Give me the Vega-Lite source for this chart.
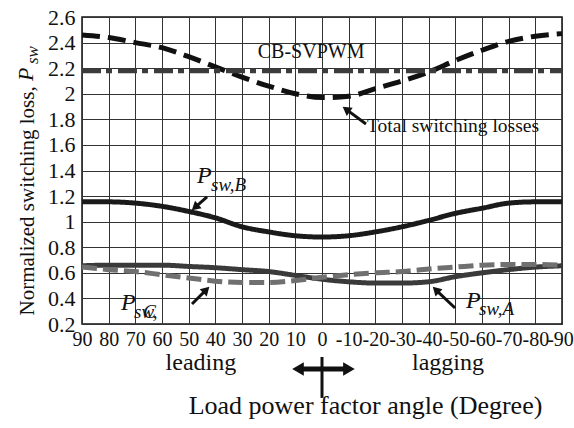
{
  "$schema": "https://vega.github.io/schema/vega-lite/v6.json",
  "width": 480,
  "height": 307,
  "autosize": {"type": "none"},
  "padding": {"left": 82, "top": 17, "right": 12, "bottom": 104},
  "background": "white",
  "config": {
    "view": {"stroke": "#111", "strokeWidth": 1.5},
    "font": "Liberation Serif",
    "text": {"font": "Liberation Serif", "color": "#111"},
    "axis": {"labelFont": "Liberation Serif", "titleFont": "Liberation Serif", "labelColor": "#111", "titleColor": "#111", "titleFontWeight": "normal", "gridColor": "#333", "gridWidth": 1, "gridOpacity": 1, "tickSize": 0, "domain": false}
  },
  "datasets": {
    "curves": [
      {"deg": 90, "series": "Total", "value": 2.46}, {"deg": 80, "series": "Total", "value": 2.44}, {"deg": 70, "series": "Total", "value": 2.40}, {"deg": 60, "series": "Total", "value": 2.36}, {"deg": 50, "series": "Total", "value": 2.29}, {"deg": 40, "series": "Total", "value": 2.21}, {"deg": 30, "series": "Total", "value": 2.13}, {"deg": 20, "series": "Total", "value": 2.06}, {"deg": 10, "series": "Total", "value": 2.00}, {"deg": 0, "series": "Total", "value": 1.97}, {"deg": -10, "series": "Total", "value": 1.98}, {"deg": -20, "series": "Total", "value": 2.04}, {"deg": -30, "series": "Total", "value": 2.10}, {"deg": -40, "series": "Total", "value": 2.17}, {"deg": -50, "series": "Total", "value": 2.26}, {"deg": -60, "series": "Total", "value": 2.34}, {"deg": -70, "series": "Total", "value": 2.41}, {"deg": -80, "series": "Total", "value": 2.45}, {"deg": -90, "series": "Total", "value": 2.47},
      {"deg": 90, "series": "B", "value": 1.155}, {"deg": 80, "series": "B", "value": 1.155}, {"deg": 70, "series": "B", "value": 1.145}, {"deg": 60, "series": "B", "value": 1.12}, {"deg": 50, "series": "B", "value": 1.08}, {"deg": 40, "series": "B", "value": 1.03}, {"deg": 30, "series": "B", "value": 0.96}, {"deg": 20, "series": "B", "value": 0.92}, {"deg": 10, "series": "B", "value": 0.89}, {"deg": 0, "series": "B", "value": 0.88}, {"deg": -10, "series": "B", "value": 0.89}, {"deg": -20, "series": "B", "value": 0.92}, {"deg": -30, "series": "B", "value": 0.96}, {"deg": -40, "series": "B", "value": 1.01}, {"deg": -50, "series": "B", "value": 1.065}, {"deg": -60, "series": "B", "value": 1.105}, {"deg": -70, "series": "B", "value": 1.145}, {"deg": -80, "series": "B", "value": 1.155}, {"deg": -90, "series": "B", "value": 1.155},
      {"deg": 90, "series": "A", "value": 0.655}, {"deg": 80, "series": "A", "value": 0.66}, {"deg": 70, "series": "A", "value": 0.66}, {"deg": 60, "series": "A", "value": 0.66}, {"deg": 50, "series": "A", "value": 0.65}, {"deg": 40, "series": "A", "value": 0.64}, {"deg": 30, "series": "A", "value": 0.625}, {"deg": 20, "series": "A", "value": 0.61}, {"deg": 10, "series": "A", "value": 0.58}, {"deg": 0, "series": "A", "value": 0.55}, {"deg": -10, "series": "A", "value": 0.53}, {"deg": -20, "series": "A", "value": 0.52}, {"deg": -30, "series": "A", "value": 0.52}, {"deg": -40, "series": "A", "value": 0.53}, {"deg": -50, "series": "A", "value": 0.57}, {"deg": -60, "series": "A", "value": 0.60}, {"deg": -70, "series": "A", "value": 0.625}, {"deg": -80, "series": "A", "value": 0.645}, {"deg": -90, "series": "A", "value": 0.655},
      {"deg": 90, "series": "C", "value": 0.645}, {"deg": 80, "series": "C", "value": 0.625}, {"deg": 70, "series": "C", "value": 0.61}, {"deg": 60, "series": "C", "value": 0.585}, {"deg": 50, "series": "C", "value": 0.56}, {"deg": 40, "series": "C", "value": 0.535}, {"deg": 30, "series": "C", "value": 0.525}, {"deg": 20, "series": "C", "value": 0.525}, {"deg": 10, "series": "C", "value": 0.54}, {"deg": 0, "series": "C", "value": 0.565}, {"deg": -10, "series": "C", "value": 0.585}, {"deg": -20, "series": "C", "value": 0.60}, {"deg": -30, "series": "C", "value": 0.61}, {"deg": -40, "series": "C", "value": 0.63}, {"deg": -50, "series": "C", "value": 0.645}, {"deg": -60, "series": "C", "value": 0.66}, {"deg": -70, "series": "C", "value": 0.665}, {"deg": -80, "series": "C", "value": 0.665}, {"deg": -90, "series": "C", "value": 0.66},
      {"deg": 90, "series": "CB", "value": 2.18}, {"deg": -90, "series": "CB", "value": 2.18}
    ],
    "labels": [
      {"kind": "cb", "x": 4.1, "y": 2.279, "text": "CB-SVPWM"},
      {"kind": "total", "x": -16.9, "y": 1.701, "text": "Total switching losses"},
      {"kind": "lead", "x": 45.4, "y": -0.16, "text": "leading"},
      {"kind": "lead", "x": -47.25, "y": -0.16, "text": "lagging"},
      {"kind": "P", "x": 46.9, "y": 1.302, "text": "P"},
      {"kind": "sub", "x": 41.6, "y": 1.24, "text": "sw,B"},
      {"kind": "P", "x": 75.4, "y": 0.309, "text": "P"},
      {"kind": "sub", "x": 70.5, "y": 0.247, "text": "sw,"},
      {"kind": "sub", "x": 67.0, "y": 0.247, "text": "C"},
      {"kind": "P", "x": -54.0, "y": 0.325, "text": "P"},
      {"kind": "sub", "x": -58.9, "y": 0.27, "text": "sw,A"},
      {"kind": "yP", "x": 108.4, "y": 2.0997, "text": "P"},
      {"kind": "ysub", "x": 106.5, "y": 2.2326, "text": "sw"}
    ],
    "arrows": [
      {"x": -16.5, "y": 1.764, "hx": -9.08, "hy": 1.878, "dir": 306},
      {"x": 43.1, "y": 1.193, "hx": 47.6, "hy": 1.1115, "dir": 229},
      {"x": 48.75, "y": 0.356, "hx": 43.4, "hy": 0.4674, "dir": 45},
      {"x": -49.9, "y": 0.325, "hx": -42.7, "hy": 0.4674, "dir": 314}
    ],
    "dbl": [
      {"x": 9.0, "y": -0.152, "hx": -10.1, "hy": -0.152}
    ],
    "dblheads": [
      {"hx": 9.0, "hy": -0.152, "dir": 270},
      {"hx": -10.1, "hy": -0.152, "dir": 90}
    ],
    "vbar": [
      {"x": 0, "y": -0.058, "hx": 0, "hy": -0.378}
    ]
  },
  "layer": [
    {
      "data": {"name": "curves"},
      "mark": {"type": "line", "interpolate": "monotone", "strokeCap": "butt"},
      "encoding": {
        "x": {"field": "deg", "type": "quantitative", "scale": {"domain": [90, -90], "nice": false, "zero": false},
          "axis": {"values": [90, 80, 70, 60, 50, 40, 30, 20, 10, 0, -10, -20, -30, -40, -50, -60, -70, -80, -90], "tickCount": 30, "grid": true, "labelFontSize": 20, "labelPadding": 5, "labelOverlap": false, "labelFlush": false,
            "labelOffset": {"condition": {"test": "datum.value == -90", "value": -2}, "value": 0},
            "labelExpr": "datum.value < 0 ? '-' + abs(datum.value) : '' + datum.value",
            "title": "Load power factor angle (Degree)", "titleFontSize": 26, "titleX": 283, "titleY": 89, "titleBaseline": "alphabetic", "titleAlign": "center"}},
        "y": {"field": "value", "type": "quantitative", "scale": {"domain": [0.2, 2.6], "nice": false, "zero": false},
          "axis": {"values": [0.2, 0.4, 0.6, 0.8, 1, 1.2, 1.4, 1.6, 1.8, 2, 2.2, 2.4, 2.6], "tickCount": 20, "grid": true, "labelFontSize": 22, "labelPadding": 7, "labelOverlap": false, "labelFlush": false, "labelBaseline": "middle",
            "labelExpr": "'' + datum.value",
            "title": "Normalized switching loss,", "titleFontSize": 21, "titleAngle": 270, "titleX": -49, "titleY": 298, "titleAlign": "left", "titleBaseline": "alphabetic"}},
        "detail": {"field": "series"},
        "color": {"field": "series", "type": "nominal", "legend": null, "scale": {"domain": ["CB", "Total", "B", "A", "C"], "range": ["#3c3c3c", "#111111", "#1a1a1a", "#3a3a3a", "#707070"]}},
        "strokeDash": {"field": "series", "type": "nominal", "legend": null, "scale": {"domain": ["CB", "Total", "B", "A", "C"], "range": [[19, 5, 6, 6], [18, 8], [1, 0], [1, 0], [15, 6]]}},
        "strokeWidth": {"field": "series", "type": "nominal", "legend": null, "scale": {"domain": ["CB", "Total", "B", "A", "C"], "range": [5, 5, 5.5, 4, 5]}}
      }
    },
    {
      "data": {"name": "labels"},
      "transform": [{"filter": "datum.kind == 'cb'"}],
      "mark": {"type": "text", "fontSize": 20, "align": "center", "baseline": "alphabetic"},
      "encoding": {"x": {"field": "x", "type": "quantitative"}, "y": {"field": "y", "type": "quantitative"}, "text": {"field": "text"}}
    },
    {
      "data": {"name": "labels"},
      "transform": [{"filter": "datum.kind == 'total'"}],
      "mark": {"type": "text", "fontSize": 19.5, "align": "left", "baseline": "alphabetic"},
      "encoding": {"x": {"field": "x", "type": "quantitative"}, "y": {"field": "y", "type": "quantitative"}, "text": {"field": "text"}}
    },
    {
      "data": {"name": "labels"},
      "transform": [{"filter": "datum.kind == 'lead'"}],
      "mark": {"type": "text", "fontSize": 24, "align": "center", "baseline": "alphabetic"},
      "encoding": {"x": {"field": "x", "type": "quantitative"}, "y": {"field": "y", "type": "quantitative"}, "text": {"field": "text"}}
    },
    {
      "data": {"name": "labels"},
      "transform": [{"filter": "datum.kind == 'P'"}],
      "mark": {"type": "text", "fontSize": 24, "fontStyle": "italic", "align": "left", "baseline": "alphabetic"},
      "encoding": {"x": {"field": "x", "type": "quantitative"}, "y": {"field": "y", "type": "quantitative"}, "text": {"field": "text"}}
    },
    {
      "data": {"name": "labels"},
      "transform": [{"filter": "datum.kind == 'sub'"}],
      "mark": {"type": "text", "fontSize": 19, "fontStyle": "italic", "align": "left", "baseline": "alphabetic"},
      "encoding": {"x": {"field": "x", "type": "quantitative"}, "y": {"field": "y", "type": "quantitative"}, "text": {"field": "text"}}
    },
    {
      "data": {"name": "labels"},
      "transform": [{"filter": "datum.kind == 'yP'"}],
      "mark": {"type": "text", "fontSize": 22, "fontStyle": "italic", "align": "left", "baseline": "alphabetic", "angle": 270},
      "encoding": {"x": {"field": "x", "type": "quantitative"}, "y": {"field": "y", "type": "quantitative"}, "text": {"field": "text"}}
    },
    {
      "data": {"name": "labels"},
      "transform": [{"filter": "datum.kind == 'ysub'"}],
      "mark": {"type": "text", "fontSize": 17, "fontStyle": "italic", "align": "left", "baseline": "alphabetic", "angle": 270},
      "encoding": {"x": {"field": "x", "type": "quantitative"}, "y": {"field": "y", "type": "quantitative"}, "text": {"field": "text"}}
    },
    {
      "data": {"name": "arrows"},
      "mark": {"type": "rule", "color": "#111", "strokeWidth": 3},
      "encoding": {"x": {"field": "x", "type": "quantitative"}, "y": {"field": "y", "type": "quantitative"}, "x2": {"field": "hx"}, "y2": {"field": "hy"}}
    },
    {
      "data": {"name": "arrows"},
      "mark": {"type": "point", "shape": "triangle-up", "filled": true, "color": "#111", "size": 100, "opacity": 1},
      "encoding": {"x": {"field": "hx", "type": "quantitative"}, "y": {"field": "hy", "type": "quantitative"}, "angle": {"field": "dir", "type": "quantitative", "scale": null}}
    },
    {
      "data": {"name": "dbl"},
      "mark": {"type": "rule", "color": "#111", "strokeWidth": 5},
      "encoding": {"x": {"field": "x", "type": "quantitative"}, "y": {"field": "y", "type": "quantitative"}, "x2": {"field": "hx"}, "y2": {"field": "hy"}}
    },
    {
      "data": {"name": "dblheads"},
      "mark": {"type": "point", "shape": "triangle-up", "filled": true, "color": "#111", "size": 180, "opacity": 1},
      "encoding": {"x": {"field": "hx", "type": "quantitative"}, "y": {"field": "hy", "type": "quantitative"}, "angle": {"field": "dir", "type": "quantitative", "scale": null}}
    },
    {
      "data": {"name": "vbar"},
      "mark": {"type": "rule", "color": "#111", "strokeWidth": 3},
      "encoding": {"x": {"field": "x", "type": "quantitative"}, "y": {"field": "y", "type": "quantitative"}, "x2": {"field": "hx"}, "y2": {"field": "hy"}}
    }
  ]
}
